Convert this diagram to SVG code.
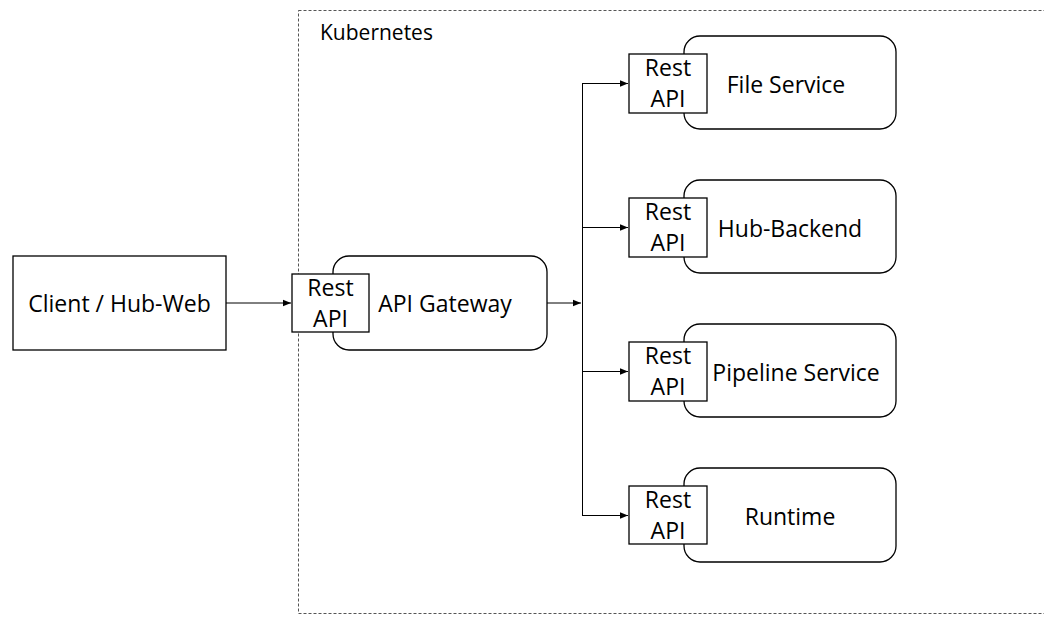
<svg xmlns="http://www.w3.org/2000/svg" width="1044" height="617" viewBox="0 0 1044 617">
<style>
.t{font-family:"Open Sans","Noto Sans",sans-serif;font-size:23px;fill:#000}
.k{font-size:21px}
.box{fill:#fff;stroke:#000;stroke-width:1.3}
.ln{fill:none;stroke:#000;stroke-width:1}
</style>
<defs>
<marker id="ah" viewBox="0 0 10 10" refX="10" refY="5" markerWidth="8" markerHeight="8" markerUnits="userSpaceOnUse" orient="auto">
<path d="M0,1 L10,5 L0,9 z" fill="#000"/>
</marker>
</defs>
<rect width="1044" height="617" fill="#fff"/>
<g id="kubernetes">
<rect x="298.5" y="10.5" width="760" height="603" fill="none" stroke="#555" stroke-width="1" stroke-dasharray="3,2"/>
<text class="t k" x="320" y="40">Kubernetes</text>
</g>
<g id="connectors">
<line class="ln" x1="226" y1="303" x2="291" y2="303" marker-end="url(#ah)"/>
<line class="ln" x1="547" y1="303" x2="581" y2="303" marker-end="url(#ah)"/>
<line class="ln" x1="582.5" y1="83" x2="582.5" y2="515"/>
<line class="ln" x1="582" y1="83.5" x2="628" y2="83.5" marker-end="url(#ah)"/>
<line class="ln" x1="582" y1="227.5" x2="628" y2="227.5" marker-end="url(#ah)"/>
<line class="ln" x1="582" y1="371.5" x2="628" y2="371.5" marker-end="url(#ah)"/>
<line class="ln" x1="582" y1="515.5" x2="628" y2="515.5" marker-end="url(#ah)"/>
</g>
<g id="client">
<rect class="box" x="13" y="256" width="213" height="94"/>
<text class="t" x="119.5" y="312" text-anchor="middle">Client / Hub-Web</text>
</g>
<g id="gateway">
<rect class="box" x="333" y="256" width="214" height="94" rx="16"/>
<text class="t" x="445" y="312" text-anchor="middle">API Gateway</text>
<rect class="box" x="292" y="274" width="77" height="58"/>
<text class="t" x="330.5" y="296" text-anchor="middle">Rest</text>
<text class="t" x="330.5" y="327" text-anchor="middle">API</text>
</g>
<g id="file-service">
<rect class="box" x="684" y="36" width="212" height="93" rx="16"/>
<text class="t" x="786" y="93" text-anchor="middle">File Service</text>
<rect class="box" x="629" y="54" width="78" height="59"/>
<text class="t" x="668" y="76" text-anchor="middle">Rest</text>
<text class="t" x="668" y="107" text-anchor="middle">API</text>
</g>
<g id="hub-backend">
<rect class="box" x="684" y="180" width="212" height="93" rx="16"/>
<text class="t" x="790" y="237" text-anchor="middle">Hub-Backend</text>
<rect class="box" x="629" y="198" width="78" height="59"/>
<text class="t" x="668" y="220" text-anchor="middle">Rest</text>
<text class="t" x="668" y="251" text-anchor="middle">API</text>
</g>
<g id="pipeline-service">
<rect class="box" x="684" y="324" width="212" height="93" rx="16"/>
<text class="t" x="796" y="381" text-anchor="middle">Pipeline Service</text>
<rect class="box" x="629" y="342" width="78" height="59"/>
<text class="t" x="668" y="364" text-anchor="middle">Rest</text>
<text class="t" x="668" y="395" text-anchor="middle">API</text>
</g>
<g id="runtime">
<rect class="box" x="684" y="468" width="212" height="94" rx="16"/>
<text class="t" x="790" y="525" text-anchor="middle">Runtime</text>
<rect class="box" x="629" y="486" width="78" height="58"/>
<text class="t" x="668" y="508" text-anchor="middle">Rest</text>
<text class="t" x="668" y="539" text-anchor="middle">API</text>
</g>
</svg>
